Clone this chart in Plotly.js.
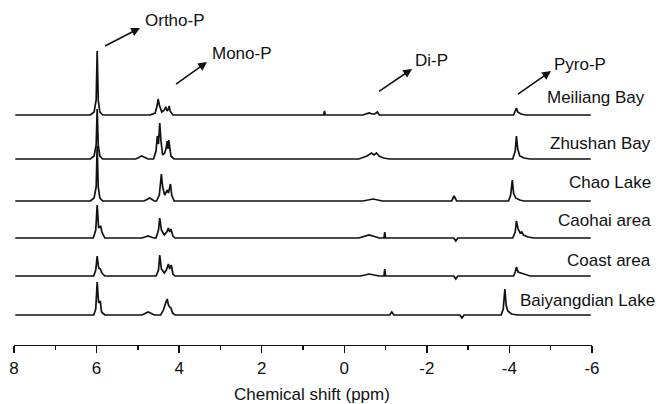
<!DOCTYPE html>
<html>
<head>
<meta charset="utf-8">
<script src="https://cdn.plot.ly/plotly-3.0.1.min.js"></script>
<style>html,body{margin:0;padding:0;background:#fff;}#chart{width:662px;height:404px;}</style>
</head>
<body>
<div id="chart"></div>
<script>
// ---------- DATA ----------
const sampleNames = ["Meiliang Bay", "Zhushan Bay", "Chao Lake", "Caohai area", "Coast area", "Baiyangdian Lake"];
const peakLabels = ["Ortho-P", "Mono-P", "Di-P", "Pyro-P"];
const xTickValues = [8, 6, 4, 2, 0, -2, -4, -6];
const xAxisTitle = "Chemical shift (ppm)";

const meiliangShift = [7.97, 6.15, 6.06, 6.01, 5.985, 5.96, 5.92, 5.85, 4.70, 4.58, 4.53, 4.51, 4.48, 4.42, 4.36, 4.32, 4.29, 4.26, 4.24, 4.22, 4.15, 0.50, 0.48, 0.46, -0.45, -0.60, -0.68, -0.74, -0.80, -0.85, -4.10, -4.15, -4.17, -4.20, -4.28, -4.40, -5.97];
const meiliangInt   = [0, 0, 3, 15, 64, 15, 3, 0, 0, 2, 10, 16, 10, 3, 5, 8, 4, 6, 9, 4, 0, 0, 4, 0, 0, 2, 1, 1, 3, 0, 0, 4, 7, 3, 1, 0, 0];

const zhushanShift = [7.97, 6.15, 6.06, 6.01, 5.985, 5.96, 5.92, 5.85, 5.05, 4.91, 4.75, 4.62, 4.56, 4.53, 4.50, 4.47, 4.44, 4.40, 4.35, 4.31, 4.29, 4.27, 4.25, 4.23, 4.20, 4.12, -0.35, -0.55, -0.66, -0.72, -0.78, -0.84, -0.95, -1.10, -4.08, -4.14, -4.17, -4.20, -4.25, -4.35, -4.50, -5.97];
const zhushanInt   = [0, 0, 3, 14, 50, 14, 3, 0, 0, 3, 0, 0, 8, 23, 15, 36, 18, 4, 6, 12, 18, 10, 19, 12, 3, 0, 0, 3, 6, 4, 6, 3, 1, 0, 0, 8, 23, 10, 3, 1, 0, 0];

const chaoShift = [7.97, 6.15, 6.06, 6.01, 5.985, 5.96, 5.92, 5.85, 4.85, 4.71, 4.60, 4.55, 4.48, 4.43, 4.40, 4.35, 4.31, 4.29, 4.26, 4.23, 4.21, 4.18, 4.12, -0.45, -0.70, -0.92, -2.60, -2.66, -2.72, -3.98, -4.03, -4.07, -4.10, -4.15, -4.25, -4.35, -5.97];
const chaoInt   = [0, 0, 3, 14, 55, 14, 3, 0, 0, 3, 0, 0, 6, 27, 14, 6, 9, 11, 8, 15, 17, 6, 0, 0, 2, 0, 0, 5, 0, 0, 6, 21, 8, 3, 1, 0, 0];

const caohaiShift = [7.97, 6.08, 6.02, 5.985, 5.95, 5.90, 5.87, 5.80, 4.90, 4.75, 4.62, 4.56, 4.50, 4.47, 4.43, 4.36, 4.30, 4.26, 4.23, 4.20, 4.15, 4.10, -0.35, -0.60, -0.85, -0.96, -0.98, -1.00, -2.65, -2.70, -2.75, -4.08, -4.14, -4.17, -4.21, -4.26, -4.30, -4.34, -4.45, -4.60, -5.97];
const caohaiInt   = [0, 0, 8, 33, 10, 12, 6, 0, 0, 2, 0, 0, 8, 20, 8, 3, 6, 10, 6, 9, 2, 0, 0, 3, 0, 0, 6, 0, 0, -3, 0, 0, 6, 17, 9, 5, 6, 3, 1, 0, 0];

const coastShift = [7.97, 6.07, 6.02, 5.985, 5.95, 5.91, 5.87, 5.80, 4.56, 4.50, 4.47, 4.43, 4.36, 4.31, 4.26, 4.23, 4.19, 4.15, 4.10, -0.40, -0.60, -0.85, -0.96, -0.98, -1.00, -2.65, -2.70, -2.75, -4.10, -4.14, -4.17, -4.21, -4.28, -4.35, -4.50, -5.97];
const coastInt   = [0, 0, 6, 20, 8, 7, 3, 0, 0, 6, 21, 7, 3, 6, 12, 7, 11, 2, 0, 0, 2, 0, 0, 7, 0, 0, -3, 0, 0, 4, 9, 4, 3, 2, 0, 0];

const baiyangdianShift = [7.97, 6.07, 6.02, 5.985, 5.95, 5.91, 5.88, 5.80, 4.90, 4.75, 4.60, 4.45, 4.39, 4.35, 4.31, 4.29, 4.26, 4.23, 4.20, 4.16, 4.10, -1.10, -1.15, -1.20, -2.80, -2.85, -2.90, -3.80, -3.85, -3.89, -3.92, -3.96, -4.05, -4.20, -5.97];
const baiyangdianInt   = [0, 0, 6, 33, 12, 14, 3, 0, 0, 3, 0, 0, 4, 10, 14, 16, 10, 8, 7, 2, 0, 0, 3, 0, 0, -3, 0, 0, 6, 26, 10, 4, 1, 0, 0];

const spectraShift = [meiliangShift, zhushanShift, chaoShift, caohaiShift, coastShift, baiyangdianShift];
const spectraInt = [meiliangInt, zhushanInt, chaoInt, caohaiInt, coastInt, baiyangdianInt];

// ---------- LAYOUT / STYLE ----------
const W = 662, H = 404;
const M = {l: 14, r: 70, t: 20, b: 59};
const plotW = W - M.l - M.r, plotH = H - M.t - M.b;
const stackOffset = [230, 186, 144, 107, 69, 30];   // vertical stacking of each spectrum
const FONT = "Liberation Sans, Arial, sans-serif";
const FS = 17;

function px2paperX(px) { return (px - M.l) / plotW; }
function px2paperY(py) { return (H - M.b - py) / plotH; }

const traces = spectraShift.map((xs, i) => ({
  type: "scatter",
  mode: "lines",
  x: xs,
  y: spectraInt[i].map(v => v + stackOffset[i]),
  line: {color: "#111", width: 1.7},
  hoverinfo: "skip",
  showlegend: false
}));

// sample label positions (px: right edge, vertical centre)
const sampleLabelPos = [[647, 97], [653, 143], [653, 183], [653, 221], [653, 260], [657, 300]];
// peak label positions (px: left edge, vertical centre)
const peakLabelPos = [[143, 20], [210, 53], [413, 60], [552, 64]];
// arrows (px: tail -> head)
const arrowPos = [[101, 48, 140, 28], [172, 87, 207, 62], [375, 94, 412, 69], [514, 97, 551, 71]];
// axis title position (px: centre)
const axisTitlePos = [312, 394];

const annotations = [];
sampleNames.forEach((t, i) => annotations.push({
  text: t, xref: "paper", yref: "paper",
  x: px2paperX(sampleLabelPos[i][0]), y: px2paperY(sampleLabelPos[i][1]),
  xanchor: "right", yanchor: "middle", showarrow: false,
  font: {family: FONT, size: FS, color: "#111"}
}));
peakLabels.forEach((t, i) => annotations.push({
  text: t, xref: "paper", yref: "paper",
  x: px2paperX(peakLabelPos[i][0]), y: px2paperY(peakLabelPos[i][1]),
  xanchor: "left", yanchor: "middle", showarrow: false,
  font: {family: FONT, size: FS, color: "#111"}
}));
arrowPos.forEach(a => annotations.push({
  xref: "paper", yref: "paper",
  x: px2paperX(a[2]), y: px2paperY(a[3]),
  ax: a[0] - a[2], ay: a[1] - a[3],
  showarrow: true, arrowhead: 2, arrowsize: 1.1, arrowwidth: 1.6, arrowcolor: "#111",
  standoff: 0, startstandoff: 0
}));
annotations.push({
  text: xAxisTitle, xref: "paper", yref: "paper",
  x: px2paperX(axisTitlePos[0]), y: px2paperY(axisTitlePos[1]),
  xanchor: "center", yanchor: "middle", showarrow: false,
  font: {family: FONT, size: FS, color: "#111"}
});

const layout = {
  width: W, height: H,
  margin: M,
  paper_bgcolor: "#fff", plot_bgcolor: "#fff",
  showlegend: false,
  font: {family: FONT, size: FS, color: "#111"},
  xaxis: {
    range: [8, -6],
    tickvals: xTickValues,
    ticktext: xTickValues.map(String),
    ticks: "outside", ticklen: 7, tickwidth: 1.3, tickcolor: "#111",
    minor: {dtick: 1, tick0: 0, ticks: "outside", ticklen: 4, tickwidth: 1.3, tickcolor: "#111"},
    showline: true, linecolor: "#111", linewidth: 1.3,
    showgrid: false, zeroline: false,
    tickfont: {family: FONT, size: FS, color: "#111"},
    automargin: false
  },
  yaxis: {range: [0, plotH], visible: false, showgrid: false, zeroline: false},
  annotations: annotations
};

Plotly.newPlot("chart", traces, layout, {staticPlot: true, displayModeBar: false});
</script>
</body>
</html>
